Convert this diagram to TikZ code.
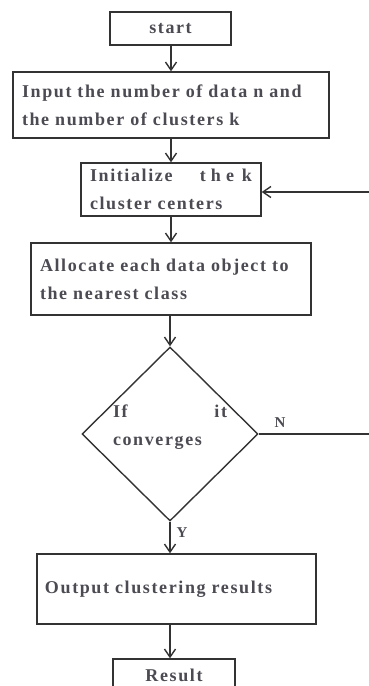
\documentclass[tikz,border=0pt]{standalone}
\usepackage{fontspec}
\setmainfont{Liberation Serif}
\newfontfamily\boxfont[LetterSpace=9,WordSpace=2]{Liberation Serif}
\usetikzlibrary{arrows.meta,shapes.geometric}
\definecolor{ink}{rgb}{0.2,0.2,0.2}
\definecolor{txt}{rgb}{0.3,0.29,0.32}
\begin{document}
\begin{tikzpicture}[x=1pt,y=-1pt,
  box/.style={draw=ink, line width=1.4pt, rectangle, inner sep=0pt,
    font=\boxfont\bfseries\fontsize{18}{28}\selectfont, text=txt},
  dtxt/.style={font=\boxfont\bfseries\fontsize{18}{28}\selectfont, text=txt, inner sep=0pt},
  line/.style={draw=ink, line width=1.4pt},
  arr/.style={line, -{Straight Barb[length=8pt,width=11pt,line width=1.4pt]}},
  lbl/.style={font=\bfseries\fontsize{15}{15}\selectfont, text=txt, inner sep=0pt}]
\useasboundingbox (0,0) rectangle (369,686);
\clip (0,0) rectangle (369,686);
\fill[white] (0,0) rectangle (369,686);

\coordinate (ax) at (171,0);
\node[box, minimum width=121, minimum height=33] (start) at (170.5,28.5) {start};
\node[box, minimum width=316, minimum height=66, text width=298, align=left] (input) at (171,105)
  {Input the number of data n and\\the number of clusters k};
\node[box, minimum width=180, minimum height=53, text width=162, align=left] (init) at (171,189.5)
  {Initialize\hfill t\hspace{5pt}h\hspace{5pt}e\hspace{8pt}k\\cluster centers};
\node[box, minimum width=280, minimum height=72, text width=262, align=left] (alloc) at (171,279)
  {Allocate each data object to\\the nearest class};
\node[line, diamond, aspect=1, minimum width=176, minimum height=174, inner sep=0pt] (dia) at (170,434) {};
\node[dtxt, text width=114, align=left] (dtext) at (170,427) {If\hfill it\\converges};
\node[box, minimum width=279, minimum height=70, text width=263, align=left] (out) at (176.5,589)
  {\raisebox{-3pt}{Output clustering results}};
\node[box, minimum width=122, minimum height=33] (res) at (174,675.5) {Result};

\node[lbl] (nlab) at (280,423) {N};
\node[lbl] (ylab) at (182,533) {Y};

\coordinate (fbend) at (372,192);
\coordinate (nend) at (372,434);

\draw[arr] (start.south -| ax) -- (input.north -| ax);
\draw[arr] (input.south -| ax) -- (init.north -| ax);
\draw[arr] (init.south -| ax) -- (alloc.north -| ax);
\draw[arr] (alloc.south -| dia.north) -- (dia.north);
\draw[arr] (dia.south) -- (out.north -| dia.south);
\draw[arr] (out.south -| dia.south) -- (res.north -| dia.south);
\draw[arr] (fbend) -- (fbend -| init.east);
\draw[line] (dia.east) -- (nend);
\end{tikzpicture}
\end{document}
